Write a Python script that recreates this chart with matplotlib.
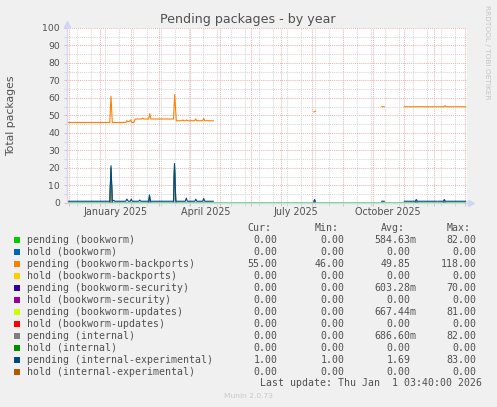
import numpy as np
import pandas as pd
import matplotlib
matplotlib.use('Agg')
import matplotlib.pyplot as plt
import matplotlib.transforms as mtransforms
from matplotlib.patches import Rectangle

############################################################
# Data (x = days since 2024-12-01)

nan = np.nan
origin = pd.Timestamp('2024-12-01')
t_left, t_right = -2.3, 397.7

# pending (bookworm): zero all year, a few spikes
bookworm_days = [-2.3, 40.5, 41.7, 43.0, 79.3, 80.2, 81.2, 104.2, 105.2, 106.5, 396.4]
bookworm_vals = [0, 0, 20.0, 0, 0, 3.0, 0, 0, 21.0, 0, 0]

# pending (bookworm-backports)
backports_days = [-2.3, 40.5, 41.7, 43.0, 56.5, 57.5, 58.5, 60.0, 61.5, 62.5, 64.5, 66.0,
                  72.5, 73.4, 74.5, 79.3, 80.4, 81.5, 104.2, 105.4, 107.0, 112.4, 113.4,
                  114.4, 116.4, 117.4, 118.4, 125.4, 126.4, 127.4, 133.4, 134.4, 135.4, 144.0,
                  nan, 244.7, 246.3, nan, 312.4, 315.0, nan, 335.0, 367.4, nan,
                  368.7, 374.7, 375.7, 376.7, 396.4]
backports_vals = [46, 46, 61, 46, 46, 47, 46.5, 46.5, 47.5, 46, 46, 48,
                  48, 48.5, 48, 48, 51, 48, 48, 62, 47, 47, 47.5,
                  47, 47, 47.5, 47, 47, 48, 47, 47, 48.3, 47, 47,
                  nan, 52, 52.5, nan, 55, 55, nan, 55, 55, nan,
                  55, 55, 55.6, 55, 55]

# pending (bookworm-security)
security_days = [40.6, 41.7, 42.9, nan, 104.3, 105.2, 106.4]
security_vals = [0, 18.0, 0, nan, 0, 19.0, 0]

# pending (bookworm-updates)
updates_days = [40.6, 41.7, 42.9, nan, 104.3, 105.2, 106.4]
updates_vals = [0, 19.0, 0, nan, 0, 20.0, 0]

# pending (internal)
internal_days = [40.5, 41.7, 43.0, nan, 79.3, 80.2, 81.2, nan, 104.2, 105.2, 106.5, nan,
                 244.5, 245.3, 246.0, nan, 346.0, 347.0, 348.0, nan, 374.0, 375.0, 376.0]
internal_vals = [0, 19.5, 0, nan, 0, 4.0, 0, nan, 0, 21.5, 0, nan,
                 0, 1.5, 0, nan, 0, 1.5, 0, nan, 0, 1.5, 0]

# pending (internal-experimental)
experimental_days = [-2.3, 40.5, 41.7, 43.0, 44.5, 45.5, 56.5, 57.5, 59.0, 61.0, 62.0, 63.0,
                     69.5, 70.5, 71.5, 79.3, 80.2, 81.2, 104.2, 105.2, 106.5, 116.0, 117.0,
                     118.0, 125.5, 126.5, 127.5, 133.5, 134.4, 135.4, 144.0,
                     nan, 244.5, 245.3, 246.0, nan, 312.4, 315.0, nan,
                     335.0, 346.0, 347.0, 348.0, 367.4, nan,
                     368.7, 374.0, 375.0, 376.0, 396.4]
experimental_vals = [1, 1, 21.3, 1, 1.5, 1, 1, 2.2, 1, 1, 2.2, 1,
                     1, 1.7, 1, 1, 4.6, 1, 1, 22.6, 1, 1, 2.8,
                     1, 1, 2.2, 1, 1, 2.6, 1, 1,
                     nan, 1, 2, 1, nan, 1, 1, nan,
                     1, 1, 2, 1, 1, nan,
                     1, 1, 2, 1, 1]

# legend table
legend_names = ['pending (bookworm)', 'hold (bookworm)', 'pending (bookworm-backports)',
                'hold (bookworm-backports)', 'pending (bookworm-security)',
                'hold (bookworm-security)', 'pending (bookworm-updates)',
                'hold (bookworm-updates)', 'pending (internal)', 'hold (internal)',
                'pending (internal-experimental)', 'hold (internal-experimental)']
legend_colors = ['#00CC00', '#0066B3', '#FF8000', '#FFCC00', '#330099', '#990099',
                 '#CCFF00', '#FF0000', '#808080', '#008F00', '#00487D', '#B35A00']
cur_vals = ['0.00', '0.00', '55.00', '0.00', '0.00', '0.00', '0.00', '0.00', '0.00', '0.00', '1.00', '0.00']
min_vals = ['0.00', '0.00', '46.00', '0.00', '0.00', '0.00', '0.00', '0.00', '0.00', '0.00', '1.00', '0.00']
avg_vals = ['584.63m', '0.00', '49.85', '0.00', '603.28m', '0.00', '667.44m', '0.00',
            '686.60m', '0.00', '1.69', '0.00']
max_vals = ['82.00', '0.00', '118.00', '0.00', '70.00', '0.00', '81.00', '0.00',
            '82.00', '0.00', '83.00', '0.00']

month_labels = ['January 2025', 'April 2025', 'July 2025', 'October 2025']
month_label_dates = ['2025-01-16', '2025-04-16', '2025-07-16', '2025-10-16']

############################################################
# Plotting

W, H = 497, 407
txt = '#505050'
axis_col = '#CFD6F8'
mgrid = '#EBB4B4'
grid = '#D6D6D6'

def days(dates):
    return [(pd.Timestamp(d) - origin).days for d in dates]

fig = plt.figure(figsize=(W / 100, H / 100), dpi=100, facecolor='#F0F0F0')
ax = fig.add_axes([67 / W, (H - 203) / H, 400 / W, 175 / H])
ax.set_facecolor('white')

ax.plot(bookworm_days, bookworm_vals, color='#00CC00', lw=0.8, zorder=2)
ax.plot(backports_days, backports_vals, color='#FF8000', lw=0.8, zorder=2)
ax.plot(security_days, security_vals, color='#330099', lw=0.8, zorder=2)
ax.plot(updates_days, updates_vals, color='#CCFF00', lw=0.8, zorder=2)
ax.plot(internal_days, internal_vals, color='#808080', lw=0.8, zorder=2)
ax.plot(experimental_days, experimental_vals, color='#00487D', lw=0.8, zorder=2)

ax.set_xlim(t_left, t_right)
ax.set_ylim(0, 100)

month_starts = pd.date_range('2024-12-01', '2026-01-01', freq='MS')
fortnights = pd.date_range('2024-12-09', '2026-01-01', freq='14D')
ax.set_xticks(days(month_starts))
ax.set_xticks(days(fortnights), minor=True)
ax.set_xticklabels([])
ax.set_yticks(np.arange(0, 101, 10))
ax.set_yticks(np.arange(5, 100, 10), minor=True)

ax.set_axisbelow(True)
ax.grid(which='major', color=mgrid, linestyle=(0, (1, 1)), lw=0.75)
ax.grid(which='minor', color=grid, linestyle=(0, (1, 1)), lw=0.75)

ax.tick_params(which='major', length=2, width=0.7, color=mgrid, labelsize=6.7,
               labelcolor=txt, pad=3)
ax.tick_params(which='minor', length=2, width=0.7, color=grid)

for s in ['top', 'right']:
    ax.spines[s].set_visible(False)
for s in ['left', 'bottom']:
    ax.spines[s].set_color(axis_col)
    ax.spines[s].set_linewidth(0.9)

# axis arrows
ax.plot([0], [1.02], marker='^', ms=4.5, color=axis_col, transform=ax.transAxes, clip_on=False)
ax.plot([1.01], [0], marker='>', ms=4.5, color=axis_col, transform=ax.transAxes, clip_on=False)

trans = mtransforms.blended_transform_factory(ax.transData, ax.transAxes)
for lab, d in zip(month_labels, days(month_label_dates)):
    ax.text(d, -0.053, lab, transform=trans, ha='center', va='center', fontsize=6.9, color=txt)

ax.set_ylabel('Total packages', fontsize=7.8, color=txt)
ax.yaxis.set_label_coords(-51 / 400, 0.5)

def fx(x):
    return x / W

def fy(y):
    return 1 - y / H

fig.text(fx(248), fy(19), 'Pending packages - by year', ha='center', va='center',
         fontsize=9.1, color=txt)
fig.text(fx(487), fy(52), 'RRDTOOL / TOBI OETIKER', ha='center', va='center',
         rotation=-90, fontsize=5.3, color='#C4C4C4')

# legend
mono = 'DejaVu Sans Mono'
lfs = 7.1
cw = 5.95
col_right = [283.6, 350.2, 416.7, 482.6]
headers = ['Cur:', 'Min:', 'Avg:', 'Max:']
for h, r in zip(headers, col_right):
    fig.text(fx(r - 2 * cw), fy(228.3), h, ha='right', va='center',
             family=mono, fontsize=lfs, color=txt)

row_y = 239.7
for i, name in enumerate(legend_names):
    y = row_y + 12 * i
    fig.add_artist(Rectangle((fx(14), fy(y + 3)), 6 / W, 6 / H, transform=fig.transFigure,
                             facecolor=legend_colors[i], edgecolor='none'))
    fig.text(fx(26.7), fy(y), name, ha='left', va='center', family=mono, fontsize=lfs, color=txt)
    for vals, r in zip([cur_vals, min_vals, avg_vals, max_vals], col_right):
        v = vals[i]
        right = r if v.endswith('m') else r - cw
        fig.text(fx(right), fy(y), v, ha='right', va='center', family=mono,
                 fontsize=lfs, color=txt)

fig.text(fx(482.4), fy(383.3), 'Last update: Thu Jan  1 03:40:00 2026', ha='right',
         va='center', family=mono, fontsize=lfs, color=txt)
fig.text(fx(248), fy(396), 'Munin 2.0.73', ha='center', va='center', fontsize=5.4,
         color='#C8C8C8')

fig.savefig('out.png', dpi=100, facecolor=fig.get_facecolor())
